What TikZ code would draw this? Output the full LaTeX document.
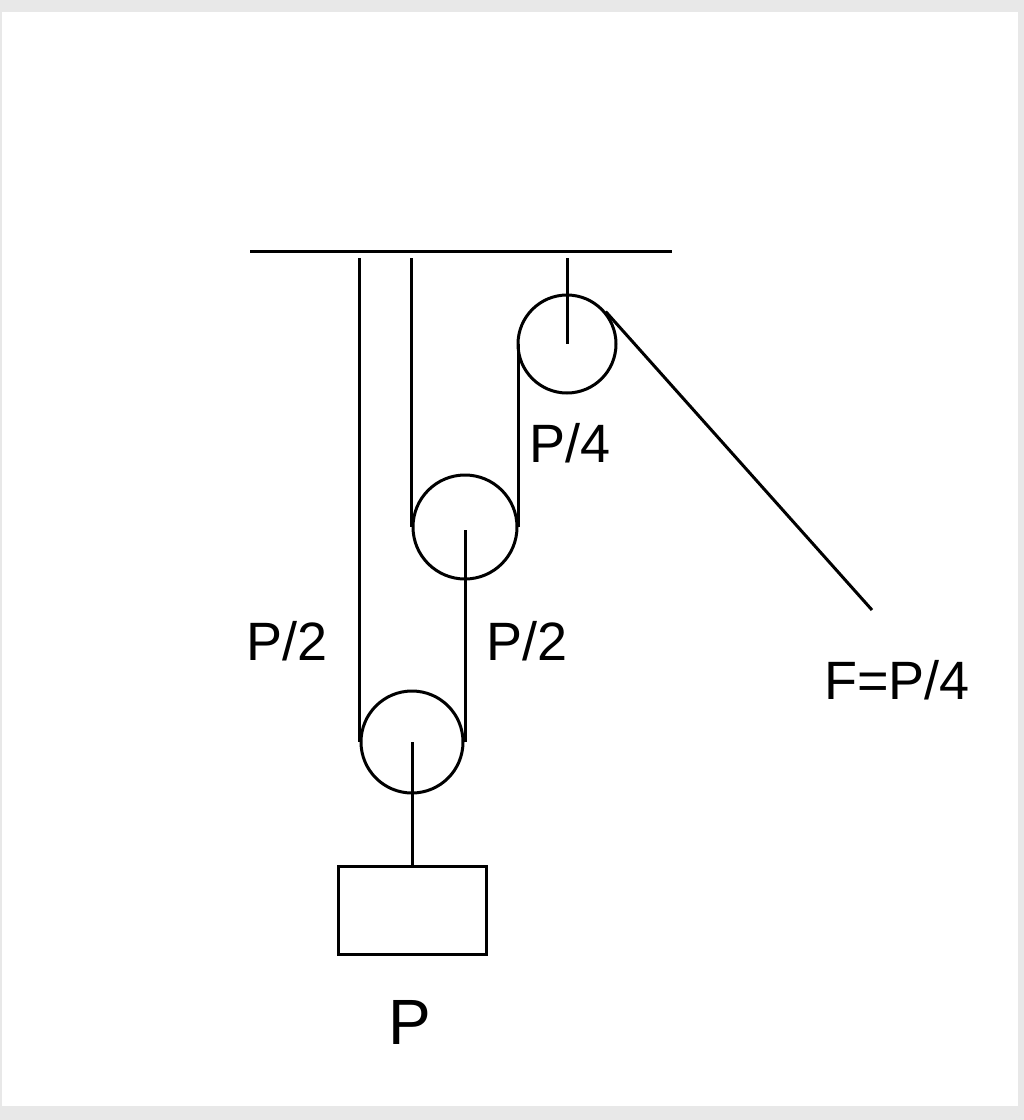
\documentclass[tikz,border=0pt]{standalone}
\usepackage{fontspec}
\setmainfont{Liberation Sans}
\begin{document}
\begin{tikzpicture}[x=1pt,y=-1pt,line width=3pt,
  lab/.style={font=\fontsize{54}{54}\selectfont,inner sep=0pt}]
\useasboundingbox (0,0) rectangle (1024,1120);
\fill[gray!18] (0,0) rectangle (1024,1120);
\fill[white] (2,12) rectangle (1018,1106);
\draw (250,251) -- (672,251);
\node[circle,draw,minimum size=98pt,inner sep=0pt] (top) at (567,344) {};
\node[circle,draw,minimum size=104pt,inner sep=0pt] (mid) at (465,527) {};
\node[circle,draw,minimum size=102pt,inner sep=0pt] (bot) at (412,742) {};
\node[draw,minimum width=148pt,minimum height=88pt,inner sep=0pt] (box) at (412,910) {};
\coordinate (free) at (872,610);
\draw (top.center |- 0,258) -- (top.center);
\draw (bot.west |- 0,258) -- (bot.west);
\draw (mid.west |- 0,258) -- (mid.west);
\draw (mid.east) -- (mid.east |- top.west);
\draw (mid.center |- 0,530) -- (mid.center |- bot.east);
\draw (bot.center) -- (box.north);
\draw (top.40) -- (free);
\node[lab] at (570,443) {P/4};
\node[lab] at (287,641) {P/2};
\node[lab] at (527,641) {P/2};
\node[lab] at (897,680) {F=P/4};
\node[lab,font=\fontsize{64}{64}\selectfont] at (410,1022) {P};
\end{tikzpicture}
\end{document}
